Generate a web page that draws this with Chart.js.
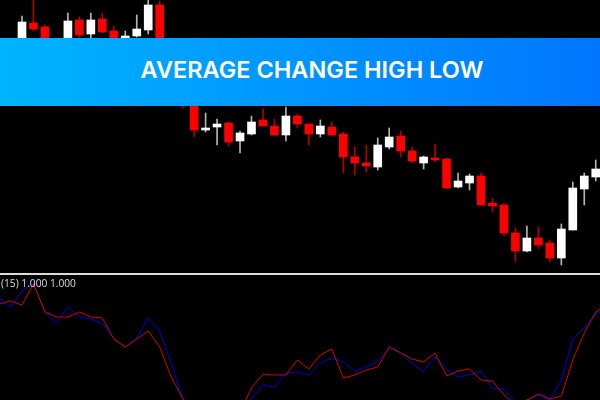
<!DOCTYPE html>
<html lang="en">
<head>
<meta charset="UTF-8">
<title>Average Change High Low</title>
<script src="https://cdn.jsdelivr.net/npm/chart.js"></script>
<style>
    html, body { margin: 0; padding: 0; background: #000; }
    .wrap { position: relative; width: 600px; height: 400px; overflow: hidden; background: #000; }
    canvas { position: absolute; left: 0; top: 0; }
    .banner {
        position: absolute; left: 0; top: 38px; width: 600px; height: 68px;
        background: linear-gradient(90deg, #00b4ff, #0076ff);
        color: #fff; font: 600 23.5px/63px Inter, "Open Sans", sans-serif;
        text-align: center; text-indent: 24px; white-space: nowrap;
    }
    .divider { position: absolute; left: 0; top: 273px; width: 600px; height: 2px; background: #dcdcdc; }
    .legend { position: absolute; left: 1px; top: 277px; color: #dcdcdc; font: 10.2px/13px "Open Sans", sans-serif; }
</style>
</head>
<body>
<div class="wrap">
    <canvas id="chart" width="600" height="400"></canvas>
    <div class="divider"></div>
    <div class="legend">(15) 1.000 1.000</div>
    <div class="banner">AVERAGE CHANGE HIGH LOW</div>
</div>
<script>
// prices in points (3, 13 and the lower bodies of some candles sit behind the banner)
const open = [227,249,245,226,225,252,238,253,241,222,236,242,267,212,187,166,142,145,149,131,138,152,146,137,156,148,138,145,138,115,109,105,125,136,121,109,114,113,85,89,96,69,67,39,21,34,29,14,42,83,95];
const close = [250,243,227,232,251,237,252,240,222,236,243,267,212,192,166,142,144,148,130,139,150,146,137,156,148,138,146,137,115,109,106,127,135,121,111,115,112,84,91,96,67,66,39,21,34,27,14,43,84,96,103];
const high = [256,272,247,233,259,255,259,259,246,241,257,272,271,215,192,168,159,153,150,141,156,163,153,165,158,148,152,150,140,125,127,134,144,141,125,116,128,114,99,98,99,74,69,44,46,45,32,48,90,99,112];
const low = [222,241,224,222,222,230,230,239,220,220,235,238,207,188,164,135,140,127,126,119,137,146,137,131,144,127,135,137,99,97,100,102,123,115,109,103,110,83,84,82,67,60,36,10,20,23,10,7,42,67,91];

// oscillator, starts two bars before the first candle and runs one past the last
const oscStart = -2;
const oscBlue = [102,93,109,117,88,77,93,83,81,77,61,53,62,82,69,37,2,-20,-30,-30,-25,-15,1,15,13,27,28,25,37,42,38,29,33,39,51,48,36,29,43,31,23,25,29,11,11,-3,0,5,0,20,61,72,85,92];
const oscRed = [96,99,95,116,88,83,83,88,83,82,61,53,61,69,53,23,2,-15,-25,-25,-20,-12,12,26,25,25,40,31,45,51,22,25,30,33,53,47,41,38,47,24,29,31,20,19,5,-5,0,6,1,4,40,67,88,95];

const RED = '#ff0000';
const WHITE = '#ffffff';

const isUp = open.map((o, i) => close[i] >= o);
const bodyColors = isUp.map(up => up ? WHITE : RED);
const wickColors = isUp.map(up => up ? '#b4b4b4' : '#b00000');

new Chart(document.getElementById('chart'), {
    data: {
        datasets: [
            {
                type: 'bar',
                data: open.map((o, i) => ({ x: i, y: [o, close[i]] })),
                backgroundColor: bodyColors,
                barThickness: 8,
                grouped: false,
                yAxisID: 'price',
                order: 1
            },
            {
                type: 'bar',
                data: high.map((h, i) => ({ x: i, y: [low[i], h] })),
                backgroundColor: wickColors,
                barThickness: 1,
                grouped: false,
                yAxisID: 'price',
                order: 2
            },
            {
                type: 'line',
                data: oscRed.map((v, i) => ({ x: i + oscStart, y: v })),
                borderColor: '#d80000',
                borderWidth: 1,
                pointRadius: 0,
                tension: 0,
                yAxisID: 'osc',
                order: 0
            },
            {
                type: 'line',
                data: oscBlue.map((v, i) => ({ x: i + oscStart, y: v })),
                borderColor: '#0000e0',
                borderWidth: 1,
                pointRadius: 0,
                tension: 0,
                yAxisID: 'osc',
                order: 0
            }
        ]
    },
    options: {
        responsive: false,
        animation: false,
        layout: { padding: 0 },
        plugins: { legend: { display: false }, tooltip: { enabled: false } },
        scales: {
            x: { type: 'linear', display: false, offset: false, min: -1.917, max: 50.37 },
            price: { display: false, min: -128, max: 272 },
            osc: { display: false, min: 0, max: 400 }
        }
    }
});
</script>
</body>
</html>
